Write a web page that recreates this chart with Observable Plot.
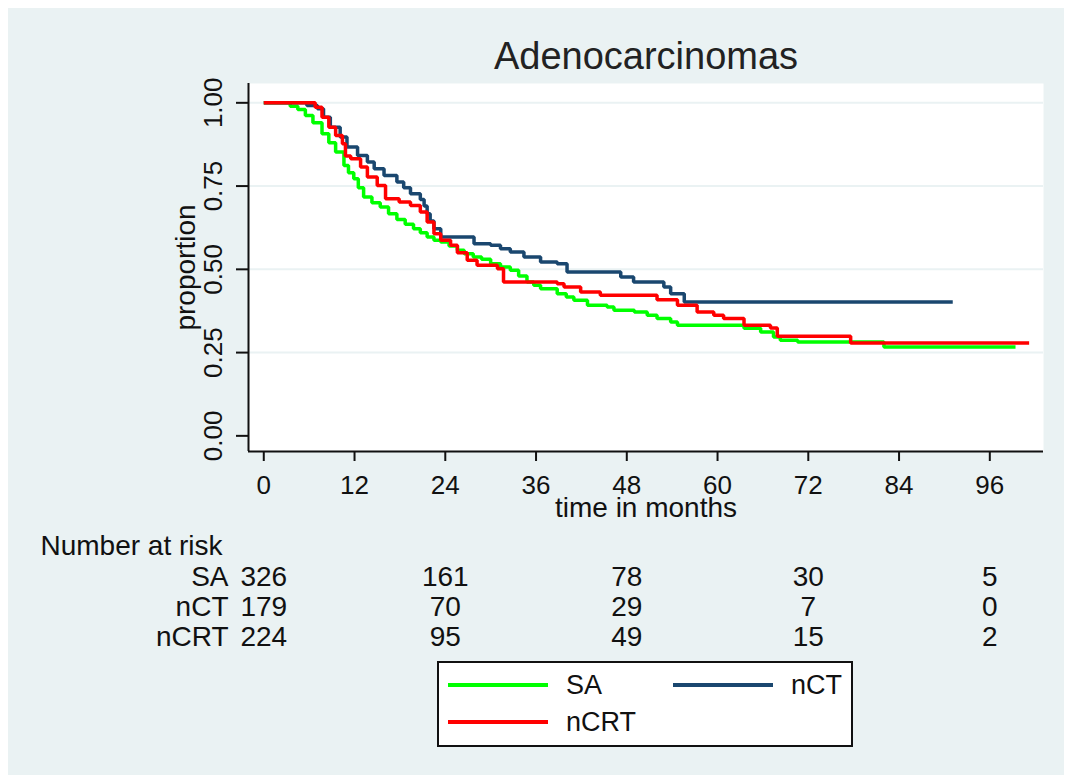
<!DOCTYPE html>
<html>
<head>
<meta charset="utf-8">
<script src="https://cdn.jsdelivr.net/npm/d3@7"></script>
<script src="https://cdn.jsdelivr.net/npm/@observablehq/plot@0.6"></script>
<style>
  html, body { margin: 0; padding: 0; background: #ffffff; }
  #page { position: relative; width: 1072px; height: 783px; overflow: hidden; }
  #bg { position: absolute; left: 8px; top: 8px; width: 1056px; height: 767px; background: #eaf2f3; }
  #chart { position: absolute; left: 0; top: 0; }
  #legend {
    position: absolute; left: 437px; top: 661px; width: 412px; height: 82px;
    background: #ffffff; border: 2px solid #111;
    font: 27px "Liberation Sans", Arial, sans-serif; color: #111;
  }
  #legend .item { position: absolute; height: 30px; display: flex; align-items: center; white-space: nowrap; }
  #legend .sw { width: 100px; height: 3.5px; margin-right: 18px; }
</style>
</head>
<body>
<div id="page">
  <div id="bg"></div>
  <div id="chart"></div>
  <div id="legend"></div>
</div>
<script>
// Kaplan–Meier estimates, [month, survival proportion] at each step
const saSteps = [
  [0, 1], [2.9, 1], [3.5, 0.99], [4.5, 0.98], [5.5, 0.962], [6.5, 0.94], [7.7, 0.907],
  [8.6, 0.88], [9.5, 0.852], [10.6, 0.812], [11.2, 0.79], [11.9, 0.772], [12.5, 0.745],
  [13.2, 0.717], [14.3, 0.70], [15.4, 0.687], [16.5, 0.667], [17.6, 0.65], [18.7, 0.635],
  [19.8, 0.622], [20.7, 0.61], [21.6, 0.597], [22.5, 0.587], [23.4, 0.582], [24.5, 0.57],
  [25.6, 0.557], [26.5, 0.547], [27.7, 0.537], [28.8, 0.53], [30, 0.517], [31.3, 0.507],
  [32.6, 0.497], [33.7, 0.48], [34.8, 0.462], [35.7, 0.452], [36.6, 0.442], [38.8, 0.427],
  [40, 0.417], [41, 0.407], [42.8, 0.392], [45.4, 0.387], [46.3, 0.377], [49, 0.372],
  [50.7, 0.362], [52, 0.352], [53.8, 0.342], [54.7, 0.332], [63.5, 0.323], [65.7, 0.312],
  [67.4, 0.297], [68.3, 0.287], [70.6, 0.282], [82, 0.267], [99.4, 0.267]
];
const nctSteps = [
  [0, 1], [4.6, 1], [5.7, 0.992], [7.1, 0.982], [7.9, 0.957], [8.8, 0.927], [10.1, 0.897],
  [11, 0.867], [12.4, 0.842], [13.7, 0.822], [14.6, 0.802], [15.9, 0.782], [17.6, 0.762],
  [18.5, 0.745], [19.4, 0.727], [20.7, 0.71], [21.2, 0.69], [21.6, 0.667], [22, 0.645],
  [22.5, 0.622], [23.4, 0.597], [27.8, 0.577], [30, 0.572], [31.3, 0.562], [32.6, 0.552],
  [34.4, 0.537], [36.6, 0.522], [38.8, 0.517], [40.1, 0.492], [47.2, 0.477], [48.9, 0.462],
  [52.9, 0.447], [53.8, 0.427], [55.6, 0.402], [91.1, 0.402]
];
const ncrtSteps = [
  [0, 1], [5.5, 1], [6.8, 0.987], [7.7, 0.957], [8.6, 0.927], [9.5, 0.902], [10.4, 0.877],
  [10.8, 0.84], [11.5, 0.832], [12.8, 0.807], [13.7, 0.777], [15, 0.752], [16.1, 0.712],
  [17.9, 0.702], [19.4, 0.692], [20.7, 0.672], [21.6, 0.642], [22.5, 0.607], [23.4, 0.587],
  [24.7, 0.572], [25.6, 0.55], [26.9, 0.527], [28.2, 0.512], [30.9, 0.502], [31.7, 0.462],
  [38.8, 0.457], [39.7, 0.447], [41.9, 0.432], [44.5, 0.422], [52, 0.409], [54.7, 0.392],
  [57.3, 0.372], [59.5, 0.362], [60.8, 0.352], [63.5, 0.332], [67, 0.324], [67.9, 0.299],
  [77.6, 0.279], [101.2, 0.279]
];

const groups = ["SA", "nCT", "nCRT"];
const groupColors = ["#00ff00", "#1a476f", "#ff0000"];

// number at risk, at the x tick months
const riskMonths = [0, 24, 48, 72, 96];
const riskSA = [326, 161, 78, 30, 5];
const riskNCT = [179, 70, 29, 7, 0];
const riskNCRT = [224, 95, 49, 15, 2];

const xTicks = [0, 12, 24, 36, 48, 60, 72, 84, 96];
const yTicks = [0, 0.25, 0.5, 0.75, 1];
const yGrid = [0.25, 0.5, 0.75, 1];

const xDomain = [-2.02, 103.1];
const yDomain = [-0.047, 1.058];

const font = '"Liberation Sans", Arial, sans-serif';
const ink = "#111";

const curves = [
  ...saSteps.map(([t, s]) => ({group: "SA", t, s})),
  ...nctSteps.map(([t, s]) => ({group: "nCT", t, s})),
  ...ncrtSteps.map(([t, s]) => ({group: "nCRT", t, s}))
];

const riskRow = (counts) => riskMonths.map((t, i) => ({t, n: counts[i]}));
const riskRows = [riskSA, riskNCT, riskNCRT];
const rowOffsets = [126, 156, 186];

const chart = Plot.plot({
  width: 1072,
  height: 783,
  marginLeft: 248,
  marginRight: 29,
  marginTop: 83,
  marginBottom: 332,
  style: {background: "transparent", fontFamily: font, color: ink, overflow: "visible"},
  x: {domain: xDomain, label: null},
  y: {domain: yDomain, label: null},
  color: {domain: groups, range: groupColors},
  marks: [
    Plot.frame({fill: "white", stroke: null}),
    Plot.gridY(yGrid, {stroke: "#eaf2f3", strokeOpacity: 1, strokeWidth: 2}),
    Plot.ruleX([xDomain[0]], {stroke: ink, strokeWidth: 2}),
    Plot.ruleY([yDomain[0]], {stroke: ink, strokeWidth: 2}),
    Plot.axisX(xTicks, {tickSize: 10, tickPadding: 14, fontSize: 26, strokeWidth: 2, stroke: ink, fill: ink, label: null}),
    Plot.axisY(yTicks, {tickSize: 12, strokeWidth: 2, stroke: ink, tickFormat: () => "", label: null}),
    Plot.text(yTicks, {
      y: (d) => d, text: (d) => d3.format(".2f")(d), frameAnchor: "left", dx: -35,
      rotate: -90, textAnchor: "middle", lineAnchor: "middle", fontSize: 26, fill: ink
    }),
    Plot.line(curves, {
      x: "t", y: "s", z: "group", stroke: "group", curve: "step-after",
      strokeWidth: 3.5, strokeLinejoin: "miter", strokeLinecap: "butt"
    }),
    // titles
    Plot.text(["Adenocarcinomas"], {frameAnchor: "top", dy: -27, lineAnchor: "middle", fontSize: 38, fill: "#222"}),
    Plot.text(["proportion"], {frameAnchor: "left", dx: -62, rotate: -90, textAnchor: "middle", lineAnchor: "middle", fontSize: 28, fill: ink}),
    Plot.text(["time in months"], {frameAnchor: "bottom", dy: 57, lineAnchor: "middle", fontSize: 28, fill: ink}),
    // number at risk table
    Plot.text(["Number at risk"], {frameAnchor: "bottom-left", dx: -208, dy: 95, textAnchor: "start", lineAnchor: "middle", fontSize: 28, fill: ink}),
    ...groups.map((g, i) => Plot.text([g], {
      frameAnchor: "bottom-left", dx: -20, dy: rowOffsets[i], textAnchor: "end", lineAnchor: "middle", fontSize: 28, fill: ink
    })),
    ...riskRows.map((counts, i) => Plot.text(riskRow(counts), {
      x: "t", text: "n", frameAnchor: "bottom", dy: rowOffsets[i], textAnchor: "middle", lineAnchor: "middle", fontSize: 28, fill: ink
    }))
  ]
});
document.getElementById("chart").appendChild(chart);

// legend box
const legendItems = [
  {label: "SA", left: 9, center: 22},
  {label: "nCT", left: 234, center: 22},
  {label: "nCRT", left: 9, center: 59}
];
const legend = d3.select("#legend");
legendItems.forEach((d) => {
  const item = legend.append("div").attr("class", "item")
    .style("left", d.left + "px").style("top", (d.center - 15) + "px");
  item.append("div").attr("class", "sw").style("background", groupColors[groups.indexOf(d.label)]);
  item.append("span").text(d.label);
});
</script>
</body>
</html>
